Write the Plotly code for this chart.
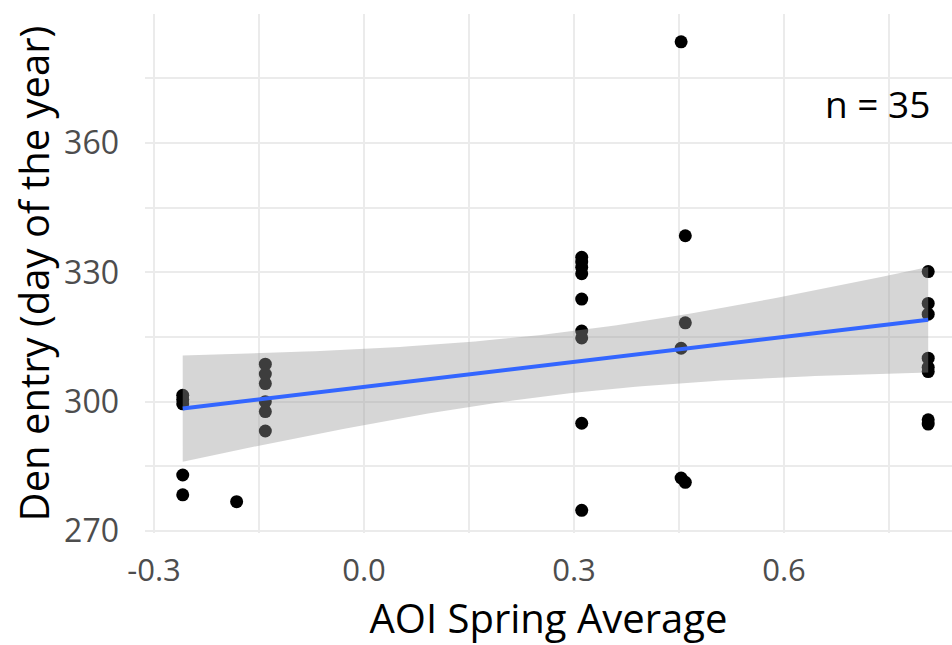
import numpy as np
import plotly.graph_objects as go

# AOI spring average (x) and den entry day (y)
# (overlapping points in the dense blobs estimated)
aoi = [-0.259]*5 + [-0.182] + [-0.141]*6 + [0.311]*9 + [0.453]*3 + [0.459]*3 + [0.806]*8
den = [301.5, 300.5, 299.5, 283.0, 278.4,
       276.8,
       308.7, 306.4, 304.2, 300.0, 297.7, 293.2,
       333.5, 332.4, 331.2, 329.7, 323.8, 316.4, 314.8, 295.0, 274.8,
       383.5, 312.4, 282.3,
       338.5, 318.3, 281.3,
       330.2, 322.8, 320.3, 310.1, 308.0, 307.0, 295.8, 294.8]

x_ticks = [-0.3, 0.0, 0.3, 0.6]
x_labels = ["-0.3", "0.0", "0.3", "0.6"]
y_ticks = [270, 300, 330, 360]
y_labels = ["270", "300", "330", "360"]
n_label = "n = 35"

# linear fit with 95% confidence band (as geom_smooth(method = "lm"))
x = np.array(aoi)
y = np.array(den)
n = len(x)
slope, intercept = np.polyfit(x, y, 1)
resid = y - (intercept + slope * x)
s = np.sqrt(np.sum(resid**2) / (n - 2))
t975 = 2.0345  # t quantile, df = 33
xg = np.linspace(x.min(), x.max(), 80)
yg = intercept + slope * xg
se = s * np.sqrt(1.0 / n + (xg - x.mean())**2 / np.sum((x - x.mean())**2))
lo = yg - t975 * se
hi = yg + t975 * se

FONT = "Open Sans"

fig = go.Figure()
fig.add_trace(go.Scatter(x=aoi, y=den, mode="markers",
                         marker=dict(color="black", size=13), showlegend=False))
fig.add_trace(go.Scatter(x=np.concatenate([xg, xg[::-1]]), y=np.concatenate([hi, lo[::-1]]),
                         fill="toself", fillcolor="rgba(153,153,153,0.4)",
                         line=dict(width=0), mode="lines", hoverinfo="skip", showlegend=False))
fig.add_trace(go.Scatter(x=xg, y=yg, mode="lines",
                         line=dict(color="#3366FF", width=4), showlegend=False))

fig.add_annotation(x=0.734, y=369.3, text=n_label, showarrow=False,
                   font=dict(family=FONT, size=37, color="black"))

grid = "#ebebeb"
fig.update_layout(
    width=952, height=645,
    margin=dict(l=145, r=0, t=14, b=112),
    paper_bgcolor="white", plot_bgcolor="white",
    font=dict(family=FONT),
    xaxis=dict(range=[-0.3129, 0.84], tickvals=x_ticks, ticktext=x_labels,
               showgrid=True, gridcolor=grid, gridwidth=2, zeroline=False,
               minor=dict(dtick=0.15, tick0=-0.15, showgrid=True, gridcolor=grid, gridwidth=1.5),
               tickfont=dict(size=31, color="#4d4d4d"), ticklabelstandoff=16,
               title=dict(text="AOI Spring Average", font=dict(size=40, color="black"), standoff=6)),
    yaxis=dict(range=[269.54, 389.95], tickvals=y_ticks, ticktext=y_labels,
               showgrid=True, gridcolor=grid, gridwidth=2, zeroline=False,
               minor=dict(dtick=15, tick0=285, showgrid=True, gridcolor=grid, gridwidth=1.5),
               tickfont=dict(size=32, color="#4d4d4d"), ticklabelstandoff=25,
               title=dict(text="Den entry (day of the year)", font=dict(size=40, color="black"), standoff=2)),
)

fig.write_html("out.html")
